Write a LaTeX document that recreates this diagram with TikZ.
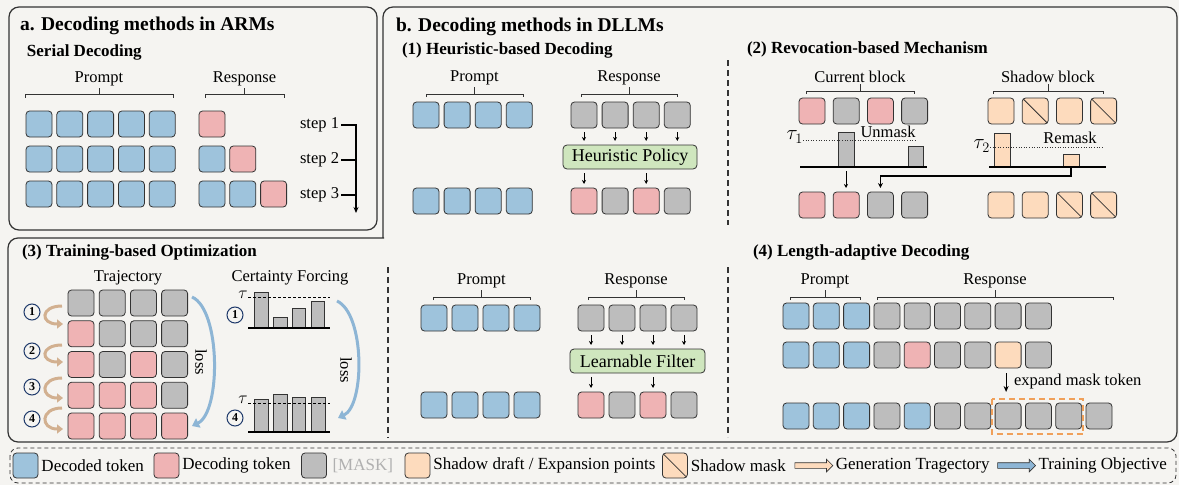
\documentclass[tikz,border=0pt]{standalone}
\usepackage{fontspec}
\setmainfont{Liberation Serif}
\usetikzlibrary{arrows.meta,calc,positioning,shapes.arrows}

\definecolor{bgc}{HTML}{F5F4F1}
\definecolor{edge}{HTML}{333333}
\definecolor{tokblue}{HTML}{9EC3DC}
\definecolor{tokpink}{HTML}{EFB3B4}
\definecolor{tokgray}{HTML}{BDBDBD}
\definecolor{tokpeach}{HTML}{FDDBBD}
\definecolor{boxgreen}{HTML}{CFE6BE}
\definecolor{navy}{HTML}{1F3A6B}
\definecolor{tanarr}{HTML}{D2B090}
\definecolor{lossblue}{HTML}{8DB5D5}
\definecolor{dashor}{HTML}{F0A05A}
\definecolor{masktxt}{HTML}{B0B0B0}

\newcommand\fsz[1]{\fontsize{#1}{#1}\selectfont}

% a row of tokens: name prefix, left x, top y, pitch, list of kinds
\newcommand\tokrow[5]{%
  \foreach \tc [count=\i] in {#5} {%
    \node[tok/.expand once=\tc] (#1-\i) at ({#2+(\i-1)*#4},#3) {};}}

% bracket over a group of tokens with its label
\newcommand\brc[5]{%
  \draw[brcs] (#2,{#4+3}) -- (#2,#4) -- (#3,#4) -- (#3,{#4+3});
  \draw[brcs] ({(#2+#3)/2},#4) -- ({(#2+#3)/2},{#4-7}) coordinate (#1);
  \node[lbl,anchor=south] (#1-t) at ($(#1)+(0,-1.5)$) {#5};}

% histogram bar: name, x1, x2, top, base, colour
\newcommand\histbar[6]{%
  \node[draw=edge,line width=0.8pt,fill=#6,minimum width={#3-#2},
        minimum height={#5-#4},anchor=south west] (#1) at (#2,#5) {};}

\begin{document}
\begin{tikzpicture}[x=1pt,y=-1pt,
  every node/.style={inner sep=0pt,outer sep=0pt},
  tok/.style={draw=edge,line width=0.8pt,rounded corners=3.5pt,
    minimum width=26pt,minimum height=26pt,anchor=north west,tk#1},
  tkB/.style={fill=tokblue},
  tkP/.style={fill=tokpink},
  tkG/.style={fill=tokgray},
  tkO/.style={fill=tokpeach},
  tkM/.style={fill=tokpeach,path picture={\draw[edge,line width=0.8pt]
    (path picture bounding box.north west) -- (path picture bounding box.south east);}},
  lbl/.style={font=\fsz{16.5}},
  taul/.style={font=\fsz{20}},
  ttl/.style={font=\fsz{19.5}\bfseries,anchor=west},
  sub/.style={font=\fsz{17}\bfseries,anchor=west},
  lgt/.style={font=\fsz{17}},
  brcs/.style={draw=edge,line width=0.8pt},
  boxline/.style={draw=edge,line width=1.2pt},
  vsep/.style={draw=edge,line width=1.1pt,dash pattern=on 6pt off 4pt},
  sarr/.style={draw=black,line width=0.9pt,-{Stealth[length=4pt,width=4pt]},
    shorten <=4pt,shorten >=4pt},
  filt/.style={draw=edge,line width=0.8pt,fill=boxgreen,rounded corners=4pt,
    font=\fsz{18}},
  hbase/.style={draw=black,line width=1.8pt},
  dotl/.style={draw=edge,line width=0.6pt,dotted},
  tdash/.style={draw=black,line width=0.9pt,dash pattern=on 3pt off 2pt},
  circ/.style={circle,draw=navy,line width=1pt,minimum size=16pt,
    font=\fsz{12}\bfseries},
  tarr/.style={draw=tanarr,line width=3pt,-{Triangle[length=6pt,width=9pt]}},
  lossarr/.style={draw=lossblue,line width=3pt,-{Triangle[length=7pt,width=10pt]}},
  larrow/.style={single arrow,draw=edge,line width=0.6pt,minimum height=38pt,
    inner xsep=0pt,inner ysep=2.5pt,single arrow head extend=3.5pt}
]
\fill[bgc] (0,0) rectangle (1179,485);
\useasboundingbox (0,0) rectangle (1179,485);

% ---------- frames ----------
\draw[boxline,rounded corners=10pt] (9,7) rectangle (377,230);
\draw[boxline,line cap=rect] (383,238) [rounded corners=10pt] -- (383,7) -- (1177,7)
  -- (1177,442) -- (8,442) -- (8,238) -- (383.5,238);
\draw[edge,line width=0.8pt,dash pattern=on 4pt off 3pt,rounded corners=8pt]
  (10,448) rectangle (1176,483);

% ---------- a. ARMs ----------
\node[ttl] (ta) at (20,26) {a. Decoding methods in ARMs};
\node[sub] (sa) at (27,52) {Serial Decoding};
\brc{abp}{25}{173}{94.5}{Prompt}
\brc{abr}{205}{284}{94.5}{Response}
\tokrow{a1p}{26}{111}{30.8}{B,B,B,B,B}
\tokrow{a1r}{199}{111}{30.8}{P}
\tokrow{a2p}{26}{146}{30.8}{B,B,B,B,B}
\tokrow{a2r}{199}{146}{30.8}{B,P}
\tokrow{a3p}{26}{181}{30.8}{B,B,B,B,B}
\tokrow{a3r}{199}{181}{30.8}{B,B,P}
\node[lbl,anchor=east] (st1) at (339,125) {step 1};
\node[lbl,anchor=east] (st2) at (339,160) {step 2};
\node[lbl,anchor=east] (st3) at (339,195) {step 3};
\coordinate (stend) at (356,213);
\draw[black,line width=1.2pt,-{Stealth[length=6pt,width=5pt]}]
  (st1.east) ++(2,0) -| (stend);
\draw[black,line width=1.2pt] (st2.east) ++(2,0) -- (st2.east -| stend);
\draw[black,line width=1.2pt] (st3.east) ++(2,0) -- (st3.east -| stend);

% ---------- b. DLLMs ----------
\node[ttl] (tb) at (396,27) {b. Decoding methods in DLLMs};

% (1) heuristic-based decoding
\node[sub] (s1) at (402,50) {(1) Heuristic-based Decoding};
\brc{hbp}{426}{523}{94}{Prompt}
\brc{hbr}{581}{677}{94}{Response}
\tokrow{h1p}{413}{102}{31.1}{B,B,B,B}
\tokrow{h1r}{571}{102}{31.1}{G,G,G,G}
\node[filt,minimum width=134pt,minimum height=24pt] (hp) at (630,157) {Heuristic Policy};
\tokrow{h2p}{413}{188}{31.1}{B,B,B,B}
\tokrow{h2r}{571}{188}{31.1}{P,G,P,G}
\foreach \i in {1,...,4} \draw[sarr] (h1r-\i.south) -- (h1r-\i.south |- hp.north);
\foreach \i in {1,3} \draw[sarr] (h2r-\i.north |- hp.south) -- (h2r-\i.north);
\draw[vsep] (728,60) -- (728,225);

% (2) revocation-based mechanism
\node[sub] (s2) at (747,49) {(2) Revocation-based Mechanism};
\brc{rbc}{806}{914}{91}{Current block}
\brc{rbs}{993}{1103}{91}{Shadow block}
\tokrow{r1c}{799}{98}{34.2}{P,G,P,G}
\tokrow{r1s}{988}{98}{34.2}{O,M,O,M}
\histbar{rb1}{838}{854}{132}{167}{tokgray}
\histbar{rb2}{908}{923}{146}{167}{tokgray}
\draw[hbase] (800,167) -- (927,167);
\node[taul,anchor=east] (tau1) at (803,137) {$\tau_1$};
\draw[dotl] (803,140) -- (917,140);
\node[lbl] (um) at (888,132) {Unmask};
\histbar{sb1}{994}{1010}{133}{167}{tokpeach}
\histbar{sb2}{1063}{1079}{154}{167}{tokpeach}
\draw[hbase] (989,167) -- (1106,167);
\node[taul,anchor=east] (tau2) at (990,146) {$\tau_2$};
\draw[dotl] (990,147) -- (1103,147);
\node[lbl] (rm) at (1070,138) {Remask};
\tokrow{r2c}{799}{192}{34.2}{P,P,G,G}
\tokrow{r2s}{988}{192}{34.2}{O,O,M,M}
\draw[sarr] (rb1.south) -- (rb1.south |- r2c-2.north);
\draw[black,line width=1.8pt,-{Stealth[length=5pt,width=5pt]},shorten >=4pt]
  (sb2.south) -- ++(0,9) -| (r2c-3.north);

% (3) training-based optimization
\node[sub] (s3) at (22,252) {(3) Training-based Optimization};
\node[lbl] (trj) at (128,278) {Trajectory};
\node[lbl] (cf) at (290,278) {Certainty Forcing};
\tokrow{g1}{68}{290}{31.2}{G,G,G,G}
\tokrow{g2}{68}{320.75}{31.2}{P,G,G,G}
\tokrow{g3}{68}{351.5}{31.2}{P,G,P,G}
\tokrow{g4}{68}{382.25}{31.2}{P,P,P,G}
\tokrow{g5}{68}{413}{31.2}{P,P,P,P}
\foreach \k/\yc/\ya/\yb in {1/312/306/324,2/351/345/362,3/387/378/398,4/419/408/429} {
  \node[circ] (n\k) at (32,\yc) {\k};
  \coordinate (ta\k) at (62,\ya);
  \coordinate (tb\k) at (63,\yb);
  \draw[tarr] (ta\k) .. controls (40,\ya) and (40,\yb) .. (tb\k);
}
\coordinate (la1) at (192,297);
\coordinate (lb1) at (192,426);
\draw[lossarr] (la1) .. controls (221,310) and (221,412) .. (lb1);
\node[lbl,rotate=-90] (loss1) at (201,362) {loss};

% certainty histograms
\histbar{ca1}{254}{268}{292}{328}{tokgray}
\histbar{ca2}{273}{287}{317}{328}{tokgray}
\histbar{ca3}{292}{305}{308}{328}{tokgray}
\histbar{ca4}{311}{324}{301}{328}{tokgray}
\draw[hbase] (248,328) -- (330,328);
\draw[tdash] (248,297) -- (330,297);
\node[lbl] (tauA) at (243,295) {$\tau$};
\node[circ] (c1) at (235,315) {1};
\histbar{cb1}{254}{268}{399}{432}{tokgray}
\histbar{cb2}{273}{287}{394}{432}{tokgray}
\histbar{cb3}{292}{305}{397}{432}{tokgray}
\histbar{cb4}{311}{325}{397}{432}{tokgray}
\draw[hbase] (248,432) -- (330,432);
\draw[tdash] (248,403) -- (330,403);
\node[lbl] (tauB) at (243,400) {$\tau$};
\node[circ] (c4) at (235,418) {4};
\coordinate (la2) at (337,301);
\coordinate (lb2) at (338,418);
\draw[lossarr] (la2) .. controls (365,314) and (365,405) .. (lb2);
\node[lbl,rotate=-90] (loss2) at (346,370) {loss};

\draw[vsep] (388,267) -- (388,438);
\draw[vsep] (728,267) -- (728,437);

% learnable filter
\brc{mbp}{433}{530}{297}{Prompt}
\brc{mbr}{588}{684}{297}{Response}
\tokrow{m1p}{421}{305}{31}{B,B,B,B}
\tokrow{m1r}{578}{305}{31}{G,G,G,G}
\node[filt,minimum width=135pt,minimum height=24pt] (lf) at (637.5,361) {Learnable Filter};
\tokrow{m2p}{421}{392}{31}{B,B,B,B}
\tokrow{m2r}{578}{392}{31}{P,G,P,G}
\foreach \i in {1,...,4} \draw[sarr] (m1r-\i.south) -- (m1r-\i.south |- lf.north);
\foreach \i in {1,3} \draw[sarr] (m2r-\i.north |- lf.south) -- (m2r-\i.north);

% (4) length-adaptive decoding
\node[sub] (s4) at (753,252) {(4) Length-adaptive Decoding};
\brc{lbp}{790}{860}{297}{Prompt}
\brc{lbr}{877}{1113}{297}{Response}
\tokrow{l1}{783}{303}{30.3}{B,B,B,G,G,G,G,G,G}
\tokrow{l2}{783}{342}{30.3}{B,B,B,G,P,G,G,O,G}
\tokrow{l3}{783}{403}{30.3}{B,B,B,G,B,G,G,G,G,G,G}
\draw[dashor,line width=2pt,dash pattern=on 6pt off 4pt]
  ($(l3-8.north west)+(-3.5,-4)$) rectangle ($(l3-10.south east)+(1.5,5)$);
\coordinate (ex1) at ($(l2-8.south)+(-2,5)$);
\coordinate (ex2) at ($(l2-8.south)+(-2,24)$);
\draw[black,line width=1.2pt,-{Stealth[length=6pt,width=5pt]}] (ex1) -- (ex2);
\node[lbl,anchor=west] (exl) at (1014,382) {expand mask token};

% ---------- legend ----------
\node[tok=B,minimum width=25pt,minimum height=25pt,anchor=west] (k1) at (13,465.5) {};
\node[lgt,right=3.5pt of k1] (k1t) {Decoded token};
\node[tok=P,minimum width=25pt,minimum height=25pt,right=10pt of k1t] (k2) {};
\node[lgt,right=3.5pt of k2] (k2t) {Decoding token};
\node[tok=G,minimum width=25pt,minimum height=25pt,right=11pt of k2t] (k3) {};
\node[lgt,text=masktxt,right=6pt of k3] (k3t) {[MASK]};
\node[tok=O,minimum width=25pt,minimum height=25pt,right=12pt of k3t] (k4) {};
\node[lgt,right=3.5pt of k4] (k4t) {Shadow draft / Expansion points};
\node[tok=M,minimum width=25pt,minimum height=25pt,right=7pt of k4t] (k5) {};
\node[lgt,right=3.5pt of k5] (k5t) {Shadow mask};
\node[larrow,fill=tokpeach,right=9pt of k5t] (k6) {};
\node[lgt,right=3pt of k6] (k6t) {Generation Tragectory};
\node[larrow,fill=lossblue,right=8pt of k6t] (k7) {};
\node[lgt,right=3pt of k7] (k7t) {Training Objective};
\end{tikzpicture}
\end{document}
